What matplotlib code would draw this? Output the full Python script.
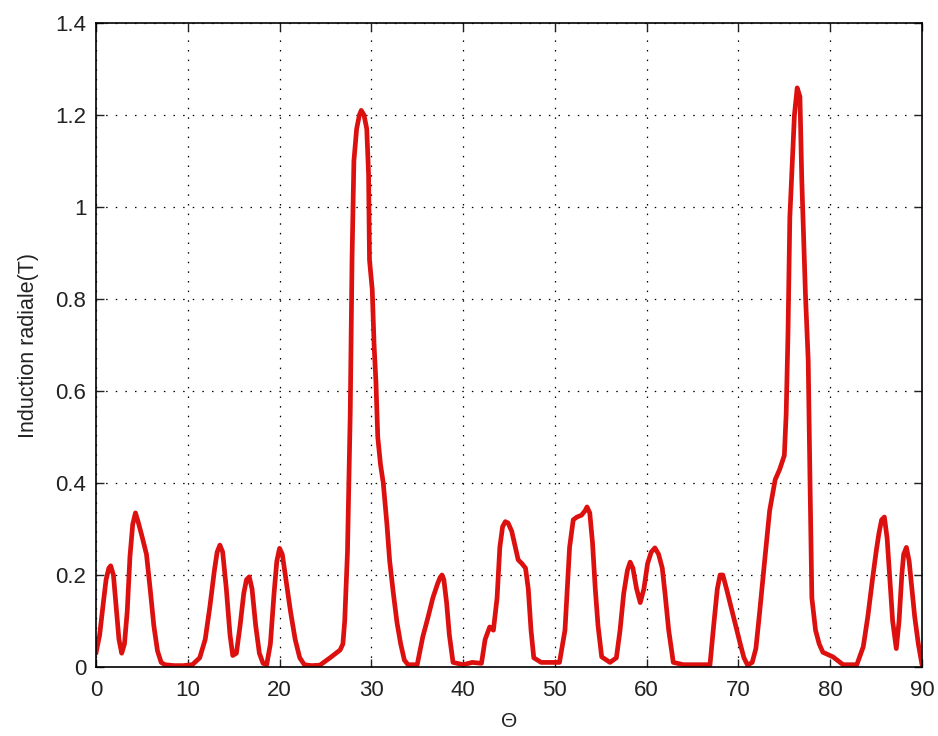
import matplotlib
matplotlib.use("Agg")
import matplotlib.pyplot as plt

theta = [0.0, 0.4, 0.8, 1.1, 1.4, 1.6, 1.9, 2.2, 2.5, 2.8, 3.1, 3.4, 3.7, 4.0, 4.3, 4.6, 5.0, 5.5, 5.9, 6.3, 6.7,
         7.1, 7.5, 8.5, 9.5, 10.5, 11.3,
         11.9, 12.4, 12.9, 13.2, 13.5, 13.8, 14.2, 14.6, 14.9, 15.3, 15.7, 16.1, 16.4, 16.7, 17.0, 17.4, 17.8, 18.2,
         18.6, 19.0, 19.4, 19.7, 20.0, 20.3, 20.7, 21.2, 21.7, 22.2, 22.7, 23.5, 24.4, 25.5, 26.6, 26.9, 27.1,
         27.4, 27.7, 27.9, 28.1, 28.4, 28.7, 28.9, 29.2, 29.5, 29.7, 29.8, 30.1, 30.3, 30.5, 30.7, 31.0, 31.3,
         31.7, 32.0, 32.4, 32.8, 33.2, 33.6, 34.0, 35.0, 35.6, 36.2, 36.7, 37.2, 37.5, 37.7, 37.9, 38.2, 38.5,
         38.9, 40.0, 41.0, 42.0, 42.4, 42.9, 43.3, 43.7, 44.0, 44.3, 44.6, 44.9, 45.3, 45.7, 46.0, 46.4, 46.8,
         47.1, 47.4, 47.7, 48.5, 49.5, 50.5, 51.1, 51.6, 52.0, 52.4, 52.9, 53.3, 53.5, 53.8, 54.1, 54.4, 54.7,
         55.1, 56.0, 56.7, 57.1, 57.5, 57.9, 58.2, 58.5, 58.9, 59.3, 59.7, 60.1, 60.5, 60.9, 61.3, 61.7, 62.0,
         62.4, 62.9, 64.0, 65.5, 66.9, 67.3, 67.7, 68.0, 68.3, 68.7, 69.2, 69.7, 70.2, 70.6, 71.0, 71.5, 71.9,
         72.3, 72.9, 73.4, 74.0, 74.5, 75.0, 75.2, 75.4, 75.6, 75.9, 76.1, 76.4, 76.7, 76.9, 77.1, 77.3, 77.6,
         77.8, 78.0, 78.4, 78.8, 79.2, 80.3, 81.4, 82.9, 83.6, 84.1, 84.6, 85.0, 85.3, 85.6, 85.9, 86.2, 86.5,
         86.8, 87.2, 87.5, 87.8, 88.0, 88.3, 88.6, 88.9, 89.2, 89.6, 90.0]
induction = [0.03, 0.07, 0.14, 0.19, 0.215, 0.22, 0.2, 0.13, 0.06, 0.03, 0.05, 0.12, 0.24, 0.31, 0.335, 0.315,
             0.285, 0.245, 0.17, 0.09, 0.035,
             0.01, 0.005, 0.003, 0.003, 0.005, 0.02,
             0.06, 0.13, 0.21, 0.25, 0.265, 0.25, 0.17, 0.07, 0.025, 0.03, 0.09, 0.16, 0.19, 0.196, 0.17, 0.09, 0.03,
             0.008,
             0.005, 0.05, 0.16, 0.23, 0.258, 0.245, 0.19, 0.12, 0.06, 0.02, 0.005, 0.003, 0.004, 0.02, 0.037, 0.05,
             0.1,
             0.25, 0.55, 0.89, 1.1, 1.17, 1.2, 1.21, 1.2, 1.17, 1.07, 0.885, 0.82, 0.70, 0.62, 0.5, 0.44, 0.4,
             0.31, 0.23, 0.16, 0.096, 0.05, 0.015, 0.005, 0.005, 0.065, 0.11, 0.15, 0.18, 0.195, 0.2, 0.19, 0.14,
             0.07,
             0.01, 0.005, 0.01, 0.008, 0.06, 0.087, 0.08, 0.15, 0.26, 0.305, 0.316, 0.313, 0.295, 0.26, 0.233,
             0.225, 0.215,
             0.17, 0.08, 0.02, 0.01, 0.01, 0.01, 0.08, 0.26, 0.32, 0.326, 0.33, 0.34, 0.348, 0.335, 0.27, 0.17,
             0.09,
             0.022, 0.01, 0.02, 0.08, 0.16, 0.21, 0.228, 0.215, 0.17, 0.14, 0.17, 0.225, 0.25, 0.259, 0.245, 0.215,
             0.16,
             0.08, 0.01, 0.005, 0.005, 0.005, 0.09, 0.17, 0.2, 0.2, 0.17, 0.13, 0.09, 0.05, 0.02, 0.004, 0.01, 0.04,
             0.117, 0.24, 0.34, 0.407, 0.43, 0.46, 0.55, 0.726, 0.978, 1.11, 1.2, 1.259, 1.24, 1.06, 0.935, 0.81,
             0.667,
             0.4, 0.15, 0.08, 0.05, 0.032, 0.022, 0.005, 0.005, 0.044, 0.11, 0.19, 0.25, 0.29, 0.32, 0.326, 0.28,
             0.19,
             0.1, 0.04, 0.1, 0.2, 0.245, 0.26, 0.23, 0.17, 0.11, 0.05, 0.005]

xticks = [0, 10, 20, 30, 40, 50, 60, 70, 80, 90]
yticks = [0, 0.2, 0.4, 0.6, 0.8, 1.0, 1.2, 1.4]
yticklabels = ["0", "0.2", "0.4", "0.6", "0.8", "1", "1.2", "1.4"]

plt.rcParams['font.family'] = ['Liberation Sans', 'DejaVu Sans']

fig = plt.figure(figsize=(9.38, 7.36), dpi=100)
ax = fig.add_axes([96 / 938, 1 - 667 / 736, (922 - 96) / 938, (667 - 23) / 736])

ax.plot(theta, induction, color='#dd1010', linewidth=3.4, solid_joinstyle='round', solid_capstyle='round')

ax.set_xlim(0, 90)
ax.set_ylim(0, 1.4)
ax.set_xticks(xticks)
ax.set_xticklabels([str(t) for t in xticks])
ax.set_yticks(yticks)
ax.set_yticklabels(yticklabels)

ax.grid(True, color='black', linestyle=(0, (1.2, 6.5)), linewidth=0.9)
ax.tick_params(direction='in', length=6, width=1, top=True, right=True,
               labelsize=16, colors='#222222', pad=7)
ax.tick_params(axis='x', pad=9)
for s in ax.spines.values():
    s.set_linewidth(1.2)
    s.set_color('black')

ax.set_xlabel('Θ', fontsize=15, labelpad=8, color='#222222')
ax.set_ylabel('Induction radiale(T)', fontsize=15.5, labelpad=12, color='#222222')

fig.savefig('out.png', dpi=100)
